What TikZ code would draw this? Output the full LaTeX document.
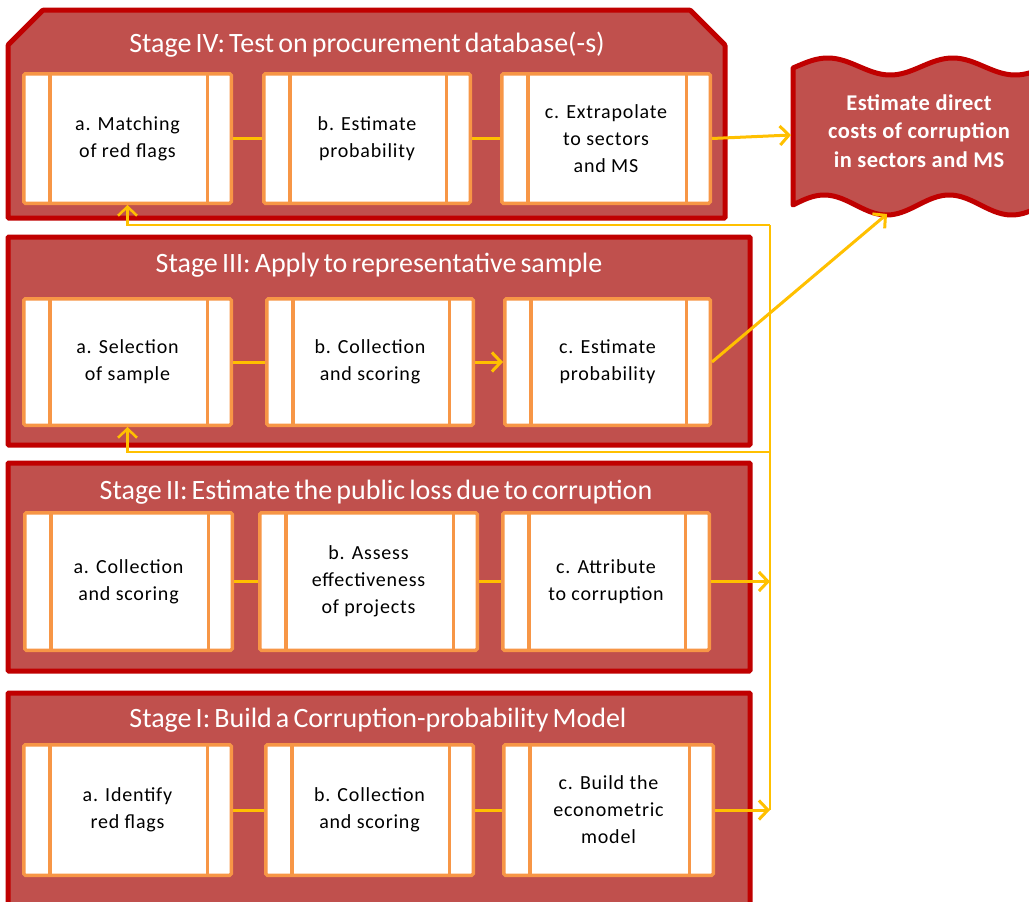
\documentclass[tikz,border=0pt]{standalone}
\usepackage{fontspec}
\setmainfont{Carlito}
\newfontfamily\boxfont{Carlito}[LetterSpace=4]
\newfontfamily\wavefont{Carlito}[LetterSpace=2]
\newfontfamily\titlefont{Carlito}[WordSpace=0.65]
\usetikzlibrary{arrows.meta}
\definecolor{stagefill}{HTML}{C0504D}
\definecolor{stageline}{HTML}{C00000}
\definecolor{boxline}{HTML}{F79646}
\definecolor{conn}{HTML}{FFC000}
\begin{document}
\begin{tikzpicture}[x=1pt,y=-1pt,
  stage/.style={fill=stagefill,draw=stageline,line width=5pt,rounded corners=1pt},
  wavestyle/.style={fill=stagefill,draw=stageline,line width=5pt,line join=round},
  title/.style={text=white,font=\titlefont\fontsize{28}{31}\selectfont,inner sep=0pt},
  procbox/.style={draw=boxline,fill=white,line width=3.5pt,rounded corners=1.5pt,inner sep=0pt,align=center,
     font=\boxfont\fontsize{20}{27}\selectfont,
     path picture={\draw[boxline,line width=3.5pt]
        ([xshift=26pt]path picture bounding box.north west) -- ([xshift=26pt]path picture bounding box.south west)
        ([xshift=-24pt]path picture bounding box.north east) -- ([xshift=-24pt]path picture bounding box.south east);}},
  link/.style={draw=conn,line width=3pt},
  tipstyle/.style={-{Straight Barb[length=9pt,width=19pt]}},
  arr/.style={link,tipstyle},
  fb/.style={draw=conn,line width=2.5pt}
]
\newcommand{\pbox}[6]{\node[procbox,minimum width={#4-#2-3.5},minimum height={#5-#3-3.5}] (#1) at ({(#2+#4)/2},{(#3+#5)/2}) {#6};}
\useasboundingbox (0,0) rectangle (1029,902);
\clip (0,0) rectangle (1029,902);
\fill[white] (0,0) rectangle (1029,902);

% stages
\draw[stage] (8,45) -- (43,10) -- (690,10) -- (725,45) -- (725,218) -- (8,218) -- cycle;
\draw[stage] (8,237) rectangle (750,445);
\draw[stage] (8,463) rectangle (750,671);
\draw[stage] (8,693) rectangle (750,930);

\node[title] (t4) at (367,45) {Stage IV: Test on procurement database(-s)};
\node[title] (t3) at (379,265) {Stage III: Apply to representative sample};
\node[title] (t2) at (376,492) {Stage II: Estimate the public loss due to corruption};
\node[title] (t1) at (378,720) {Stage I: Build a Corruption-probability Model};

% wave
\draw[wavestyle] plot[domain=793:1100,samples=120] (\x,{66.5-8.5*sin(2.88*(\x-793)-10)})
   -- plot[domain=1100:793,samples=120] (\x,{205-10*sin(2.88*(\x-793))}) -- cycle;
\node[text=white,align=center,font=\wavefont\bfseries\fontsize{22.5}{28.5}\selectfont] (wtext) at (919,131)
  {Estimate direct\\costs of corruption\\in sectors and MS};
\coordinate (wl) at (791,135);
\coordinate (wb) at (887,214);

% boxes stage IV
\pbox{iva}{22}{72}{233}{205}{a. Matching\\of red flags}
\pbox{ivb}{262}{72}{472}{205}{b. Estimate\\probability}
\pbox{ivc}{500}{72}{712}{205}{c. Extrapolate\\to sectors\\and MS}
% stage III
\pbox{iiia}{22}{297}{233}{427}{a. Selection\\of sample}
\pbox{iiib}{265}{297}{475}{427}{b. Collection\\and scoring}
\pbox{iiic}{503}{297}{712}{427}{c. Estimate\\probability}
% stage II
\pbox{iia}{23}{511}{234}{652}{a. Collection\\and scoring}
\pbox{iib}{258}{511}{479}{652}{b. Assess\\effectiveness\\of projects}
\pbox{iic}{501}{511}{711}{652}{c. Attribute\\to corruption}
% stage I
\pbox{ia}{22}{743}{233}{877}{a. Identify\\red flags}
\pbox{ib}{264}{743}{475}{877}{b. Collection\\and scoring}
\pbox{ic}{502}{743}{715}{877}{c. Build the\\econometric\\model}

% connectors within stages
\draw[link] (iva) -- (ivb);
\draw[link] (ivb) -- (ivc);
\draw[link] (iiia) -- (iiib);
\draw[arr] (iiib) -- (iiic);
\draw[link] (iia) -- (iib);
\draw[link] (iib) -- (iic);
\draw[link] (ia) -- (ib);
\draw[link] (ib) -- (ic);

% to wave
\draw[arr] (ivc.east) -- (wl);
\draw[arr] (iiic.east) -- (wb);

% feedback bus
\coordinate (jtop) at (770,225);
\coordinate (jmid) at (770,452);
\coordinate (jbot) at (770,810);
\draw[fb] (jtop) -- (jbot);
\draw[arr] (iic.east) -- (iic.east -| jbot);
\draw[arr] (ic.east) -- (ic.east -| jbot);
\draw[fb,tipstyle] (jtop) -| (iva.south);
\draw[fb,tipstyle] (jmid) -| (iiia.south);
\end{tikzpicture}
\end{document}
